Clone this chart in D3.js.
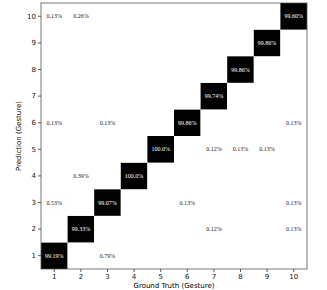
<!DOCTYPE html>
<html>
<head>
<meta charset="utf-8">
<script src="https://cdn.jsdelivr.net/npm/d3@7"></script>
<style>
  body { margin: 0; background: #fff; }
  .tick text { font-family: "DejaVu Sans", sans-serif; font-size: 7px; fill: #111; }
  .cell-label { font-family: "Liberation Serif", "Times New Roman", serif; font-size: 6px; }
</style>
</head>
<body>
<script>
const classes = [1, 2, 3, 4, 5, 6, 7, 8, 9, 10];
// rows: prediction 1..10, columns: ground truth 1..10, values in %
const pred1  = [99.19, 0, 0.79, 0, 0, 0, 0, 0, 0, 0];
const pred2  = [0, 99.33, 0, 0, 0, 0, 0.12, 0, 0, 0.13];
const pred3  = [0.53, 0, 99.07, 0, 0, 0.13, 0, 0, 0, 0.13];
const pred4  = [0, 0.39, 0, 100.0, 0, 0, 0, 0, 0, 0];
const pred5  = [0, 0, 0, 0, 100.0, 0, 0.12, 0.13, 0.13, 0];
const pred6  = [0.13, 0, 0.13, 0, 0, 99.86, 0, 0, 0, 0.13];
const pred7  = [0, 0, 0, 0, 0, 0, 99.74, 0, 0, 0];
const pred8  = [0, 0, 0, 0, 0, 0, 0, 99.86, 0, 0];
const pred9  = [0, 0, 0, 0, 0, 0, 0, 0, 99.86, 0];
const pred10 = [0.13, 0.26, 0, 0, 0, 0, 0, 0, 0, 99.60];
const rows = [pred1, pred2, pred3, pred4, pred5, pred6, pred7, pred8, pred9, pred10];

const margin = { top: 3, right: 20, bottom: 21, left: 41 };
const width = 327 - margin.left - margin.right;
const height = 290 - margin.top - margin.bottom;

const cells = [];
rows.forEach((r, i) => r.forEach((v, j) => cells.push({ pred: classes[i], gt: classes[j], v })));

const svg = d3.select("body").append("svg")
  .attr("width", 327).attr("height", 290);
const g = svg.append("g").attr("transform", `translate(${margin.left},${margin.top})`);

const x = d3.scaleBand().domain(classes).range([0, width]);
const y = d3.scaleBand().domain(classes.slice().reverse()).range([0, height]);
const color = d3.scaleSequential(d3.interpolateGreys).domain([0, 100]);

g.selectAll("rect.cell").data(cells).join("rect")
  .attr("class", "cell")
  .attr("x", d => x(d.gt)).attr("y", d => y(d.pred))
  .attr("width", x.bandwidth()).attr("height", y.bandwidth())
  .attr("fill", d => color(d.v));

const fmt = v => v >= 100 ? v.toFixed(1) + "%" : v.toFixed(2) + "%";
g.selectAll("text.cell-label").data(cells.filter(d => d.v > 0)).join("text")
  .attr("class", "cell-label")
  .attr("x", d => x(d.gt) + x.bandwidth() / 2)
  .attr("y", d => y(d.pred) + y.bandwidth() / 2)
  .attr("text-anchor", "middle").attr("dominant-baseline", "central")
  .attr("fill", d => d.v > 50 ? "#fff" : "#222")
  .text(d => fmt(d.v));

// frame
g.append("rect").attr("width", width).attr("height", height)
  .attr("fill", "none").attr("stroke", "#555").attr("stroke-width", 0.8);

const xAxis = g.append("g").attr("transform", `translate(0,${height})`)
  .call(d3.axisBottom(x).tickSize(3).tickPadding(2));
const yAxis = g.append("g").call(d3.axisLeft(y).tickSize(3).tickPadding(2));
[xAxis, yAxis].forEach(a => {
  a.select(".domain").remove();
  a.selectAll(".tick line").attr("stroke", "#333").attr("stroke-width", 0.8);
});

svg.append("text")
  .attr("x", margin.left + width / 2).attr("y", 290 - 2)
  .attr("text-anchor", "middle")
  .style("font-family", "DejaVu Sans, sans-serif").style("font-size", "7px")
  .text("Ground Truth (Gesture)");

svg.append("text")
  .attr("transform", `translate(21,${margin.top + height / 2}) rotate(-90)`)
  .attr("text-anchor", "middle")
  .style("font-family", "DejaVu Sans, sans-serif").style("font-size", "7px")
  .text("Prediction (Gesture)");
</script>
</body>
</html>
